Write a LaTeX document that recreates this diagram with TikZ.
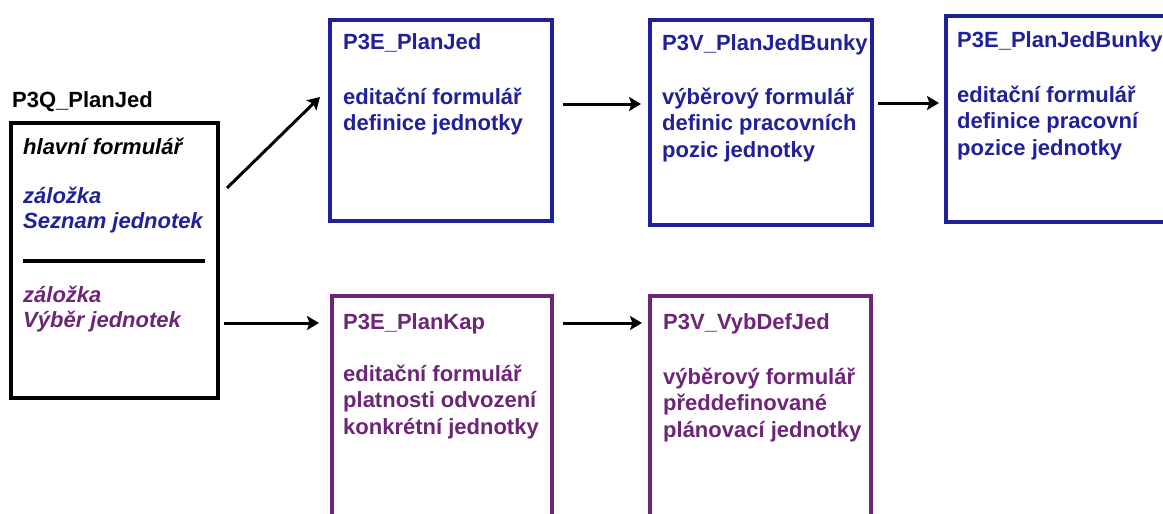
\documentclass[tikz,border=0pt]{standalone}
\usepackage{fontspec}
\setmainfont{Liberation Sans}
\usetikzlibrary{arrows.meta,calc}
\definecolor{navy}{HTML}{20209A}
\definecolor{plum}{HTML}{6E2478}
% left-aligned block of lines whose baseline is that of its first line
\newcommand\linestack[1]{\vtop{\halign{##\hfil\cr#1\crcr}}}
\begin{document}
\begin{tikzpicture}[x=1pt,y=-1pt,
  frame/.style={draw,rectangle,outer sep=0pt,inner sep=0pt,anchor=north west},
  boxB/.style={frame,draw=navy,line width=4pt},
  boxP/.style={frame,draw=plum,line width=4pt},
  boxK/.style={frame,draw=black,line width=4.5pt},
  txt/.style={inner sep=0pt,anchor=base west,
    font=\fontsize{22}{26.5}\selectfont\bfseries},
  itxt/.style={txt,font=\fontsize{22}{25.5}\selectfont\bfseries\itshape},
  arr/.style={line width=3pt,-{Stealth[length=12pt,width=14pt,inset=2.5pt]}}]
\useasboundingbox (0,0) rectangle (1163,514);
\clip (0,0) rectangle (1163,514);

% main form with its two tabs
\node[txt] (qtitle) at (12,107) {P3Q\_PlanJed};
\node[boxK,minimum width=207pt,minimum height=275pt] (q) at (11,123) {};
\node[itxt] (qmain) at (23,154) {hlavní formulář};
\node[itxt,text=navy] (qtab1) at (23,203) {\linestack{záložka\cr Seznam jednotek}};
\draw[line width=4pt] ($(q.west)+(12,0)$ |- 0,257) coordinate (sepL) -- ($(q.east)+(-13,0)$ |- 0,257) coordinate (sepR);
\node[itxt,text=plum] (qtab2) at (23,302) {\linestack{záložka\cr Výběr jednotek}};

% upper chain (blue)
\node[boxB,minimum width=222pt,minimum height=201pt] (pje) at (330,20) {};
\node[txt,text=navy] (pjeT) at (343,49) {P3E\_PlanJed};
\node[txt,text=navy] (pjeD) at (343,104) {\linestack{editační formulář\cr definice jednotky}};

\node[boxB,minimum width=222pt,minimum height=205pt] (pjb) at (650,20) {};
\node[txt,text=navy] (pjbT) at (662,50) {P3V\_PlanJedBunky};
\node[txt,text=navy] (pjbD) at (662,104) {\linestack{výběrový formulář\cr definic pracovních\cr pozic jednotky}};

\node[boxB,minimum width=232pt,minimum height=206pt] (pjeb) at (946,16) {};
\node[txt,text=navy] (pjebT) at (957,47) {P3E\_PlanJedBunky};
\node[txt,text=navy] (pjebD) at (957,102) {\linestack{editační formulář\cr definice pracovní\cr pozice jednotky}};

% lower chain (purple)
\node[boxP,minimum width=220pt,minimum height=240pt] (pk) at (332,296) {};
\node[txt,text=plum] (pkT) at (343,329) {P3E\_PlanKap};
\node[txt,text=plum] (pkD) at (343,381) {\linestack{editační formulář\cr platnosti odvození\cr konkrétní jednotky}};

\node[boxP,minimum width=221pt,minimum height=240pt] (vdj) at (650,296) {};
\node[txt,text=plum] (vdjT) at (663,329) {P3V\_VybDefJed};
\node[txt,text=plum] (vdjD) at (663,384) {\linestack{výběrový formulář\cr předdefinované\cr plánovací jednotky}};

% connectors
\coordinate (rowU) at (0,104);
\coordinate (rowU2) at (0,103);
\coordinate (rowL) at (0,323);
\draw[arr] ($(q.east |- 0,188)+(9,0)$) -- ($(pje.west |- 0,97)+(-10,0)$);
\draw[arr,shorten <=11pt,shorten >=9pt] (pje.east |- rowU) -- (pjb.west |- rowU);
\draw[arr,shorten <=6pt,shorten >=7pt] (pjb.east |- rowU2) -- (pjeb.west |- rowU2);
\draw[arr,shorten <=6pt,shorten >=13pt] (q.east |- rowL) -- (pk.west |- rowL);
\draw[arr,shorten <=11pt,shorten >=8pt] (pk.east |- rowL) -- (vdj.west |- rowL);
\end{tikzpicture}
\end{document}
